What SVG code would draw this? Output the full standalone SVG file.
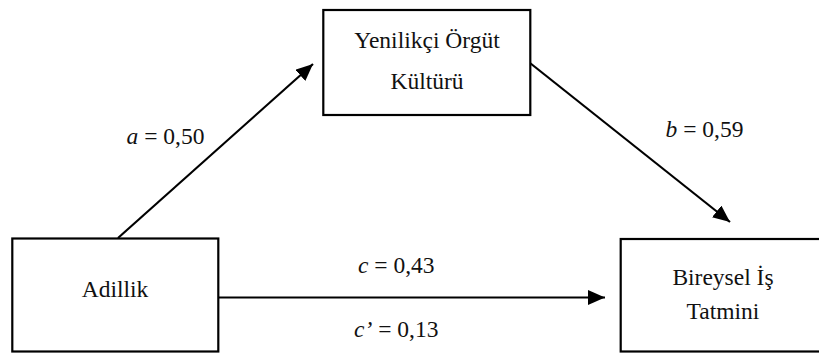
<svg xmlns="http://www.w3.org/2000/svg" width="819" height="353" viewBox="0 0 819 353">
<style>
.box{fill:#fff;stroke:#000;stroke-width:2.2}
.c{stroke:#000;stroke-width:2.2;fill:none}
</style>
<defs>
<marker id="ah" markerUnits="userSpaceOnUse" markerWidth="18" markerHeight="16" refX="17" refY="7.5" orient="auto">
<path d="M0,0 L17,7.5 L0,15 Z" fill="#000"/>
</marker>
</defs>
<rect width="819" height="353" fill="#fff"/>
<g id="connectors" font-family="Liberation Serif, serif" font-size="23.5" fill="#111">
<line class="c" x1="118" y1="238" x2="313" y2="64" marker-end="url(#ah)"/>
<line class="c" x1="530" y1="63" x2="730" y2="222" marker-end="url(#ah)"/>
<line class="c" x1="218" y1="297.5" x2="605" y2="297.5" marker-end="url(#ah)"/>
<text x="126.5" y="144.3"><tspan font-style="italic">a</tspan> = 0,50</text>
<text x="665.5" y="137.3"><tspan font-style="italic">b</tspan> = 0,59</text>
<text x="358" y="273.3"><tspan font-style="italic">c</tspan> = 0,43</text>
<text x="354" y="336.7"><tspan font-style="italic">c’</tspan> = 0,13</text>
</g>
<g id="adillik" font-family="Liberation Serif, serif" font-size="23.5" fill="#111">
<rect class="box" x="12.3" y="238.5" width="206" height="113"/>
<text x="115" y="296.7" text-anchor="middle">Adillik</text>
</g>
<g id="yenilikci" font-family="Liberation Serif, serif" font-size="23.5" fill="#111">
<rect class="box" x="323.3" y="10" width="207" height="105"/>
<text x="427" y="48.3" text-anchor="middle">Yenilikçi Örgüt</text>
<text x="427" y="89.3" text-anchor="middle">Kültürü</text>
</g>
<g id="bireysel" font-family="Liberation Serif, serif" font-size="23.5" fill="#111">
<rect class="box" x="620.7" y="239" width="210" height="112.5"/>
<text x="723" y="285" text-anchor="middle">Bireysel İş</text>
<text x="723" y="319.3" text-anchor="middle">Tatmini</text>
</g>
</svg>
